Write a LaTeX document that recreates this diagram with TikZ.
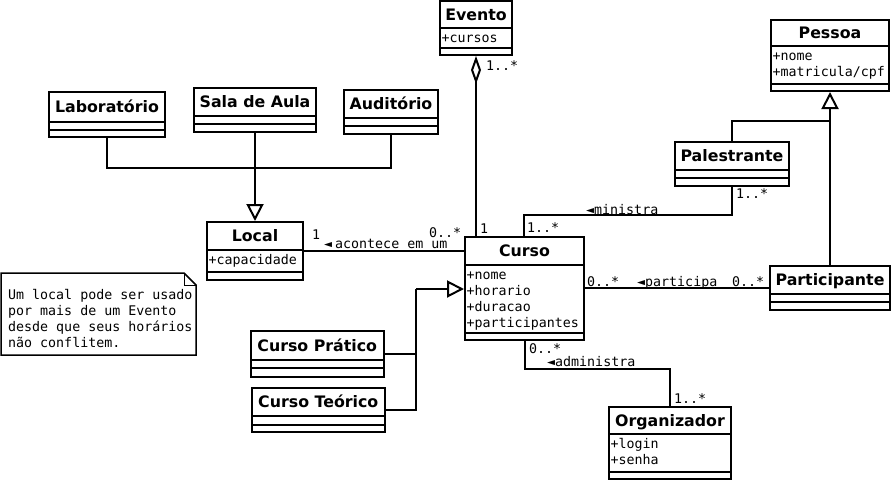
\documentclass[tikz,border=0pt]{standalone}
\usepackage{fontspec}
\setmainfont{DejaVu Sans}
\newfontfamily\monofont{DejaVu Sans Mono}
\usetikzlibrary{arrows.meta}

% class box: name, x1, y1, x2, y2, first separator, second separator, title, attributes
\newcommand{\umlclass}[9]{%
  \node[classbox, minimum width={#4-#2}, minimum height={#5-#3}] (#1) at ({(#2+#4)/2},{(#3+#5)/2}) {};
  \draw[conn] (#2,#6) -- (#4,#6) (#2,#7) -- (#4,#7);
  \node[classname] (#1-name) at ({(#2+#4)/2},{(#3+#6)/2+5.8}) {#8};
  \node[classattr] (#1-attr) at (#2+1.5,#6+3.5) {\strut#9};
}

\begin{document}
\begin{tikzpicture}[
    x=1pt, y=-1pt,
    conn/.style={line width=2pt},
    classbox/.style={draw, line width=2pt, inner sep=0pt, fill=white},
    classname/.style={font=\bfseries\fontsize{15.8}{18}\selectfont, inner sep=0pt, anchor=base},
    classattr/.style={font=\monofont\fontsize{13.3}{16}\selectfont, inner sep=0pt, align=left, anchor=north west},
    role/.style={font=\monofont\fontsize{13.3}{16}\selectfont, inner sep=0pt, anchor=base west},
    gen/.style={conn, -{Triangle[open, length=17pt, width=17pt]}},
    agg/.style={conn, {Diamond[open, length=28pt, width=10pt]}-}
]
\useasboundingbox (0,0) rectangle (891,480);

\umlclass{evento}{440}{1}{512}{55}{28}{48}{Evento}{+cursos}
\umlclass{lab}{49}{92}{165}{137}{122}{129.5}{Laboratório}{}
\umlclass{sala}{194}{88}{316}{132}{116}{124}{Sala de Aula}{}
\umlclass{aud}{344}{90}{438}{134}{118}{126}{Auditório}{}
\umlclass{local}{207}{222}{303}{280}{250}{271.5}{Local}{+capacidade}
\umlclass{curso}{465}{237}{584}{340}{264.5}{332.5}{Curso}{+nome\\+horario\\+duracao\\+participantes}
\umlclass{pessoa}{771}{19.5}{889}{91}{46}{84}{Pessoa}{+nome\\+matricula/cpf}
\umlclass{pal}{675}{142}{789}{186}{169.5}{178}{Palestrante}{}
\umlclass{part}{770}{266}{890}{310}{293.5}{302}{Participante}{}
\umlclass{cprat}{251}{331}{383.5}{377}{359.5}{368}{Curso Prático}{}
\umlclass{cteor}{252}{388}{384.5}{432}{416}{424.5}{Curso Teórico}{}
\umlclass{org}{609}{407}{731}{479}{434}{471.5}{Organizador}{+login\\+senha}

% note
\draw[line width=1.5pt, fill=white] (1,273) -- (184,273) -- (196,285) -- (196,355) -- (1,355) -- cycle;
\draw[line width=1pt] (184,273) -- (184,285) -- (196,285);
\node[classattr] (nota) at (8,287.8) {\strut Um local pode ser usado\\por mais de um Evento\\desde que seus horários\\não conflitem.};

% generalizations
\coordinate (joinL) at (255,168);
\coordinate (joinP) at (830,121);
\coordinate (joinC) at (416,289);
\draw[conn] (lab.south) |- (joinL) -| (aud.south);
\draw[gen] (sala.south) -- (local.north);
\draw[gen] (part.north) -- (pessoa.south);
\draw[conn] (pal.north) |- (joinP);
\draw[conn] (cprat.east) -| (joinC);
\draw[conn] (cteor.east) -| (joinC);
\draw[gen] (joinC) -- (joinC -| curso.west);

% associations
\draw[agg] (evento.south) -- (evento.south |- curso.north);
\draw[conn] (local.east) -- (local.east -| curso.west);
\draw[conn] (curso.north -| 524,0) -- ++(0,-21) -| (pal.south);
\draw[conn] (part.west) -- (part.west -| curso.east);
\draw[conn] (curso.south -| 525,0) -- ++(0,28) -| (org.north);

\node[role] (m-ev) at (486,70) {1..*};
\node[role] (m-lo) at (312,239.5) {1};
\node[role] (l-ac) at (324,248) {◄\hspace{3pt}acontece em um};
\node[role] (m-cl) at (429,237.5) {0..*};
\node[role] (m-ce) at (480,233) {1};
\node[role] (m-cp) at (527,232) {1..*};
\node[role] (l-mi) at (586,214) {◄ministra};
\node[role] (m-pa) at (736,198) {1..*};
\node[role] (m-cr) at (587,286) {0..*};
\node[role] (l-pt) at (637,286) {◄participa};
\node[role] (m-pt) at (732,286) {0..*};
\node[role] (m-co) at (529,353.5) {0..*};
\node[role] (l-ad) at (547,366) {◄administra};
\node[role] (m-or) at (674,403) {1..*};

\end{tikzpicture}
\end{document}
